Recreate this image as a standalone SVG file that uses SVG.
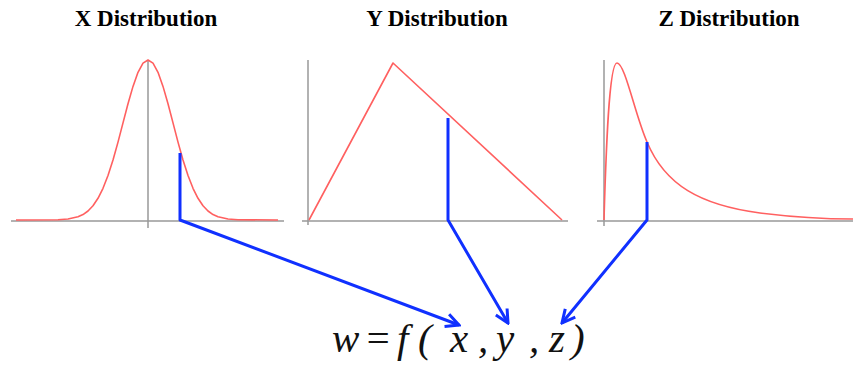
<svg xmlns="http://www.w3.org/2000/svg" width="853" height="365" viewBox="0 0 853 365">
<style>
.title{font-family:"Liberation Serif","Times New Roman",serif;font-weight:bold;font-size:23px;text-anchor:middle;fill:#000}
.axis{stroke:#999;stroke-width:1.5;fill:none}
.curve{stroke:#ff6060;stroke-width:1.6;fill:none;stroke-linejoin:round}
.conn{stroke:#1030ff;stroke-width:3;fill:none;stroke-linejoin:round}
.formula{font-family:"Liberation Serif","Times New Roman",serif;font-style:italic;font-size:41px;fill:#111}
</style>
<defs>
<marker id="arrow" markerUnits="userSpaceOnUse" viewBox="-16 -10 18 20" markerWidth="18" markerHeight="20" refX="0" refY="0" orient="auto">
<path d="M-13,-6.5 L0,0 L-13,6.5" fill="none" stroke="#1030ff" stroke-width="3" stroke-linejoin="miter"/>
</marker>
</defs>
<rect width="853" height="365" fill="#fff"/>
<g id="x-distribution">
<text class="title" x="146" y="26">X Distribution</text>
<line class="axis" x1="11" y1="221" x2="284" y2="221"/>
<line class="axis" x1="148" y1="60" x2="148" y2="228"/>
<polyline class="curve" points="16,220 58,219.7 68,219 78,216.8 83,214.6 88,211 93,205.8 98,198.3 103,188.3 108,175.5 113,160 118,142.1 123,122.9 128,103.8 133,86.4 138,72.3 143,63.2 148,60 153,63.2 158,72.3 163,86.4 168,103.8 173,122.9 178,142.1 183,160 188,175.5 193,188.3 198,198.3 203,205.8 208,211 213,214.6 218,216.8 228,219 238,219.7 278,220"/>
</g>
<g id="y-distribution">
<text class="title" x="437" y="26">Y Distribution</text>
<line class="axis" x1="302" y1="221" x2="568" y2="221"/>
<line class="axis" x1="308" y1="60" x2="308" y2="225"/>
<polyline class="curve" points="309,220 393,63 562,220"/>
</g>
<g id="z-distribution">
<text class="title" x="729" y="26">Z Distribution</text>
<line class="axis" x1="597" y1="221" x2="853" y2="221"/>
<line class="axis" x1="604" y1="60" x2="604" y2="226"/>
<path class="curve" d="M604,220 C606,150 609,63 617,63 C625,63 635,115 647,142 C665,185 700,205 760,213 C800,218 830,219 853,219"/>
</g>
<g id="formula">
<text class="formula" y="352"><tspan x="332">w</tspan><tspan x="364">=</tspan><tspan x="397">f</tspan><tspan x="418">(</tspan><tspan x="450">x</tspan><tspan x="478">,</tspan><tspan x="496">y</tspan><tspan x="529">,</tspan><tspan x="549">z</tspan><tspan x="571">)</tspan></text>
</g>
<g id="connectors">
<polyline class="conn" points="180,153 180,220 459,325" marker-end="url(#arrow)"/>
<polyline class="conn" points="448,118 448,220 508,323" marker-end="url(#arrow)"/>
<polyline class="conn" points="647,142 647,220 562,323" marker-end="url(#arrow)"/>
</g>
</svg>
